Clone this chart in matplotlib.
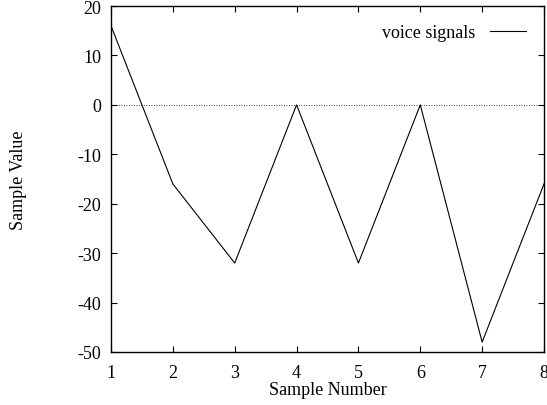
import matplotlib
matplotlib.use("Agg")
import matplotlib.pyplot as plt

# Data
sample_number = [1, 2, 3, 4, 5, 6, 7, 8]
sample_value = [16, -16, -32, 0, -32, 0, -48, -16]
x_ticks = [1, 2, 3, 4, 5, 6, 7, 8]
y_ticks = [20, 10, 0, -10, -20, -30, -40, -50]

plt.rcParams['font.family'] = ['Liberation Serif', 'DejaVu Serif']
plt.rcParams['font.size'] = 13

fig = plt.figure(figsize=(5.47, 4.06), dpi=100)
ax = fig.add_axes([111 / 547, 1 - 353 / 406, 433 / 547, 346 / 406])

ax.axhline(0, color='black', lw=0.6, ls=(0, (1, 2)))
ax.plot(sample_number, sample_value, color='black', lw=0.8, label='voice signals')

ax.set_xlim(1, 8)
ax.set_ylim(-50, 20)
ax.set_xticks(x_ticks)
ax.set_yticks(y_ticks)
ax.set_yticklabels([str(t) for t in y_ticks])
ax.tick_params(direction='in', top=True, right=True, length=4, width=0.8)
ax.tick_params(axis='x', pad=9)
ax.tick_params(axis='y', pad=7)
for s in ax.spines.values():
    s.set_linewidth(1.0)

ax.set_xlabel('Sample Number', labelpad=0)
ax.set_ylabel('Sample Value', labelpad=36)

leg = ax.legend(loc='upper right', frameon=False, markerfirst=False,
                handlelength=2.0, borderaxespad=0.6, handletextpad=0.8)

fig.savefig('out.png', dpi=100)
